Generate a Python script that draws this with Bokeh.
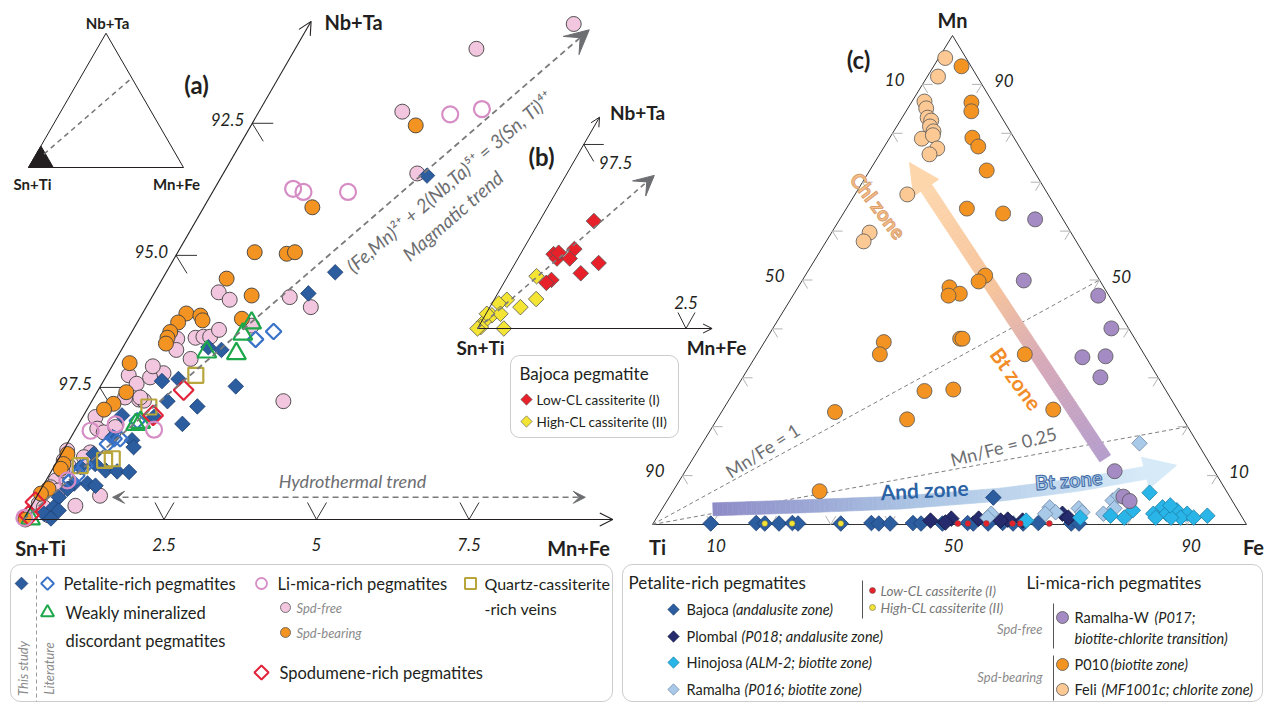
import numpy as np
from bokeh.plotting import figure
from bokeh.models import Range1d, BoxAnnotation, Arrow, OpenHead, VeeHead
from bokeh.core.properties import value
from bokeh.embed import file_html
from bokeh.resources import INLINE

W, H = 1266, 704
FONT = "Lato"

# ------------------------------------------------------------------
# (a) Nb+Ta / Sn+Ti / Mn+Fe compositions (percent of each apex group)
# ------------------------------------------------------------------
a_pet_study_mnfe = [3.36, 2.77, 2.53, 1.64, 1.40, 0.96, 1.21, 2.22, 1.24, 1.78, 1.70, 0.63, 1.17, 1.03, 0.68, 1.12,
                    0.53, 0.65, 0.88, 1.08, 1.28, 0.44, 0.71, 0.86, 0.49, 0.43, 0.37, 0.38, 0.28, 0.49, 0.44]
a_pet_study_nbta = [6.51, 4.68, 4.28, 3.21, 3.26, 2.62, 2.66, 2.52, 2.24, 2.14, 1.81, 1.97, 1.94, 1.50, 1.56, 1.37,
                    1.24, 1.05, 0.93, 0.91, 0.90, 0.99, 0.68, 0.64, 0.68, 0.58, 0.42, 0.23, 0.11, 0.17, 0.02]
a_pet_lit_mnfe = [2.32, 2.10, 0.93, 0.72, 0.66, 0.50, 0.46, 0.40, 0.82]
a_pet_lit_nbta = [3.56, 3.41, 1.87, 1.53, 1.43, 1.02, 0.83, 0.74, 1.53]
a_weak_mnfe = [1.88, 1.84, 1.42, 1.92, 0.94, 1.00, 0.11]
a_weak_nbta = [3.72, 3.51, 3.17, 3.14, 1.80, 1.84, 0.01]
a_mica_lit_mnfe = [3.16, 3.63, 1.29, 1.49, 2.22, 1.29, 0.61, 0.26, 0.35, 0.00]
a_mica_lit_nbta = [7.67, 7.77, 6.26, 6.20, 6.20, 1.70, 1.80, 1.68, 0.74, 0.03]
a_spd_free_mnfe = [4.33, 2.97, 2.35, 3.18, 1.05, 1.30, 2.26, 2.70, 0.81, 0.90, 1.10, 1.22, 1.33, 1.41, 1.22, 1.91,
                   0.36, 0.57, 0.91, 0.73, 0.76, 0.85, 3.14, 0.65, 0.51, 0.76, 0.21, 0.35, 0.49, 0.63, 0.46, 0.40,
                   0.06, 0.10, 0.16, 0.14, 0.30, 0.10, 0.22, 0.23, 0.17, 0.67, 0.37, 0.72, 1.03]
a_spd_free_nbta = [9.38, 8.91, 7.72, 6.55, 4.30, 4.16, 4.21, 4.02, 3.42, 3.21, 3.44, 3.46, 3.46, 3.59, 3.04, 3.67,
                   2.73, 2.57, 2.77, 2.69, 2.27, 2.25, 2.24, 1.65, 2.31, 2.31, 1.94, 1.72, 1.65, 1.75, 1.27, 1.18,
                   1.31, 1.12, 0.74, 0.61, 0.55, 0.30, 0.23, 1.02, 0.93, 2.90, 0.08, 0.26, 0.45]
a_spd_bear_mnfe = [2.70, 1.78, 1.26, 1.80, 1.92, 1.05, 1.62, 0.72, 0.97, 1.68, 0.67, 1.05, 0.63, 0.64, 0.67, 0.26,
                   0.48, 0.38, 0.28, 0.10, 0.13, 0.13, 0.12, 0.04, 0.03]
a_spd_bear_nbta = [7.46, 5.91, 5.06, 5.03, 5.06, 4.56, 4.24, 3.90, 3.86, 3.80, 3.73, 3.77, 3.55, 3.44, 3.33, 2.96,
                   2.41, 2.19, 2.08, 1.24, 1.05, 0.96, 0.58, 0.49, 0.00]
a_qtz_mnfe = [1.46, 0.88, 0.99, 0.42, 0.77]
a_qtz_nbta = [2.73, 1.15, 2.13, 1.02, 1.12]
a_spod_mnfe = [1.40, 1.14, 0.03, 0.05]
a_spod_nbta = [2.45, 1.97, 0.33, 0.08]

a_left_ticks = [2.5, 5.0, 7.5]
a_left_labels = ["97.5", "95.0", "92.5"]
a_bottom_ticks = [2.5, 5.0, 7.5]
a_bottom_labels = ["2.5", "5", "7.5"]

# (b) Bajoca cassiterite
b_low_mnfe = [0.64, 0.60, 0.39, 0.46, 0.61, 0.98, 0.84, 0.54, 0.50, 0.44]
b_low_nbta = [1.46, 1.08, 1.01, 0.95, 0.95, 0.89, 0.75, 0.66, 0.62, 1.03]
b_high_mnfe = [0.34, 0.15, 0.36, 0.49, 0.08, 0.08, 0.17, 0.03, 0.03, 0.31, 0.01, 0.00]
b_high_nbta = [0.71, 0.39, 0.29, 0.40, 0.34, 0.18, 0.20, 0.09, 0.02, 0.00, 0.20, 0.00]

# (c) Ti - Mn - Fe (atomic %)
feli_mn = [95.4, 91.6, 86.5, 85.1, 83.2, 82.6, 81.4, 80.4, 78.9, 79.6, 76.9, 75.7, 67.5, 59.7, 57.9]
feli_fe = [1.1, 1.8, 2.1, 3.1, 4.3, 5.2, 5.6, 6.7, 5.5, 7.0, 9.1, 8.4, 8.8, 6.4, 6.3]
p010_mn = [93.7, 86.3, 84.5, 79.1, 77.3, 72.4, 64.6, 63.6, 50.9, 49.7, 48.5, 47.2, 46.8, 37.3, 34.8, 38.0,
           38.0, 34.8, 27.3, 27.6, 23.5, 23.0, 21.5, 6.8]
p010_fe = [4.7, 10.1, 11.0, 13.9, 15.8, 19.7, 20.3, 26.9, 30.3, 29.8, 25.5, 27.9, 26.2, 20.1, 20.7, 32.6,
           33.0, 45.1, 32.0, 36.7, 55.6, 19.1, 32.0, 24.7]
ramw_mn = [62.4, 49.9, 46.8, 40.1, 34.2, 34.4, 30.1, 10.9, 5.7, 4.8]
ramw_fe = [32.9, 37.3, 51.4, 57.0, 55.1, 58.9, 60.2, 72.3, 76.4, 77.9]
ramalha_mn = [16.6, 3.5, 2.5, 2.2, 3.3, 2.5, 4.9, 3.3, 2.2, 2.2, 1.4, 5.9]
ramalha_fe = [73.6, 65.1, 66.6, 65.0, 70.1, 71.1, 75.0, 76.1, 74.8, 55.9, 55.7, 75.5]
hinojosa_mn = [6.5, 2.9, 1.4, 1.8, 3.5, 2.2, 2.2, 2.9, 2.2, 1.4, 1.4, 1.4, 1.8, 1.4, 0.8, 1.4, 3.9]
hinojosa_fe = [80.4, 79.4, 78.7, 76.2, 84.1, 83.2, 85.4, 86.8, 88.9, 84.0, 88.2, 90.4, 92.5, 86.6, 62.5, 71.3, 85.2]
bajoca_mn = [0.2, 0.3, 0.2, 0.2, 0.3, 0.2, 0.2, 0.3, 0.2, 0.2, 0.3, 0.2, 0.2, 0.3, 0.2, 0.2, 0.3, 0.2, 0.2, 0.3,
             0.2, 0.2, 5.5]
bajoca_fe = [9.7, 17.3, 18.8, 21.2, 23.4, 24.4, 31.6, 36.7, 38.0, 39.9, 43.7, 45.1, 48.7, 52.9, 53.9, 56.4, 58.8,
             60.6, 62.3, 64.8, 70.4, 71.7, 54.6]
plombal_mn = [0.8, 1.2, 1.2, 1.0, 2.2, 1.4, 0.8, 0.4, 0.8]
plombal_fe = [46.4, 49.7, 54.3, 59.3, 67.9, 69.3, 61.9, 49.1, 58.2]
c_low_mn = [0.2, 0.2, 0.2, 0.2, 0.2, 0.2]
c_low_fe = [51.3, 53.0, 56.1, 60.5, 61.8, 66.7]
c_high_mn = [0.2, 0.2, 0.2]
c_high_fe = [18.8, 23.4, 31.6]

c_ticks = [10, 20, 30, 40, 50, 60, 70, 80, 90]
c_labelled = [10, 50, 90]

# zone arrows in (c), given as (Mn, Fe) compositions
chl_arrow_mn = [13.5, 74.0]
chl_arrow_fe = [69.4, 5.9]
and_arrow_mn = [3.1, 3.7, 4.5, 6.1, 8.2, 10.6, 12.1]
and_arrow_fe = [8.6, 23.1, 39.5, 55.5, 67.9, 77.8, 82.1]

# colours
C_PET = "#2b5d9f"
C_PET_LIT = "#3b73c8"
C_WEAK = "#1ca84a"
C_MICA = "#d68cc4"
C_FREE = "#f1c6de"
C_BEAR = "#f39322"
C_QTZ = "#b8a53c"
C_SPOD = "#e2233a"
C_LOW = "#e8202a"
C_HIGH = "#f4e434"
C_PLOMBAL = "#252b6c"
C_HINO = "#2ab5e8"
C_RAMALHA = "#a9c9e8"
C_RAMW = "#a48bc3"
C_FELI = "#fcc994"
C_TXT = "#231f20"
C_GREY = "#6d6e71"

p = figure(width=W, height=H, x_range=Range1d(0, W), y_range=Range1d(0, H),
           x_axis_type=None, y_axis_type=None, output_backend="svg",
           toolbar_location=None, min_border=0)
p.outline_line_color = None
p.background_fill_color = "white"


def fy(py):
    return H - np.asarray(py, float)


SQ3 = np.sqrt(3) / 2

# panel geometry (page pixels)
A_X0, A_Y0, A_S = 23.0, 519.0, 61.0
B_X0, B_Y0, B_S = 477.0, 328.0, 85.0
I_X0, I_Y0, I_S = 28.0, 167.0, 1.55
C_TI, C_FE, C_MN = (652.0, 524.0), (1246.0, 524.0), (952.0, 35.0)
A_TICK_SHIFT = -12.0


def tern(x0, y0, s, mnfe, nbta):
    mnfe = np.asarray(mnfe, float)
    nbta = np.asarray(nbta, float)
    return x0 + s * (mnfe + nbta / 2), fy(y0 - s * SQ3 * nbta)


def pa(mnfe, nbta):
    return tern(A_X0, A_Y0, A_S, mnfe, nbta)


def pb(mnfe, nbta):
    return tern(B_X0, B_Y0, B_S, mnfe, nbta)


def pi_(mnfe, nbta):
    return tern(I_X0, I_Y0, I_S, mnfe, nbta)


def pc(mn, fe):
    mn = np.asarray(mn, float) / 100
    fe = np.asarray(fe, float) / 100
    ti = 1 - mn - fe
    x = ti * C_TI[0] + fe * C_FE[0] + mn * C_MN[0]
    y = ti * C_TI[1] + fe * C_FE[1] + mn * C_MN[1]
    return x, fy(y)


def txt(x, y, s, size=16, color=C_TXT, style="normal", align="left", baseline="middle", angle=0.0, **kw):
    p.text(x=[x], y=[y], text=[s], text_font=value(FONT), text_font_size=f"{size}px", text_color=color,
           text_font_style=style, text_align=align, text_baseline=baseline, angle=angle, **kw)


def diamond(x, y, size, fill, line="#3a3a3a", lw=0.8):
    p.scatter(x, y, marker="square", angle=np.pi / 4, size=size, fill_color=fill, line_color=line, line_width=lw)


def circle(x, y, size, fill, line="#3a3a3a", lw=0.8):
    p.scatter(x, y, marker="circle", size=size, fill_color=fill, line_color=line, line_width=lw)


def hex2rgb(h):
    h = h.lstrip("#")
    return np.array([int(h[i:i + 2], 16) for i in (0, 2, 4)], float)


def mix(stops, t):
    for (t0, c0), (t1, c1) in zip(stops[:-1], stops[1:]):
        if t <= t1:
            f = (t - t0) / (t1 - t0)
            c = hex2rgb(c0) * (1 - f) + hex2rgb(c1) * f
            return "#%02x%02x%02x" % tuple(int(round(v)) for v in c)
    return stops[-1][1]


def band(xs, ys, width, stops, n=90):
    xs, ys = np.asarray(xs, float), np.asarray(ys, float)
    seg = np.hypot(np.diff(xs), np.diff(ys))
    cum = np.r_[0, np.cumsum(seg)]
    t = np.linspace(0, cum[-1], n + 1)
    bx, by = np.interp(t, cum, xs), np.interp(t, cum, ys)
    gx, gy = np.gradient(bx), np.gradient(by)
    gl = np.hypot(gx, gy)
    nx, ny = -gy / gl * width / 2, gx / gl * width / 2
    qx, qy, cols = [], [], []
    for i in range(n):
        qx.append([bx[i] + nx[i], bx[i + 1] + nx[i + 1], bx[i + 1] - nx[i + 1], bx[i] - nx[i]])
        qy.append([by[i] + ny[i], by[i + 1] + ny[i + 1], by[i + 1] - ny[i + 1], by[i] - ny[i]])
        cols.append(mix(stops, (i + 0.5) / n))
    p.patches(qx, qy, fill_color=cols, line_color=cols, line_width=0.6)


def head(tip, back, length, half, color):
    d = np.array([tip[0] - back[0], tip[1] - back[1]], float)
    d /= np.hypot(*d)
    nrm = np.array([-d[1], d[0]])
    base = np.array(tip, float) - length * d
    p.patch([tip[0], base[0] + half * nrm[0], base[0] - half * nrm[0]],
            [tip[1], base[1] + half * nrm[1], base[1] - half * nrm[1]], fill_color=color, line_color=color)


# ------------------------------------------------------------------
# inset ternary showing the enlarged corner
# ------------------------------------------------------------------
ix, iy = pi_([0, 100, 0], [0, 0, 100])
p.patch(list(ix), list(iy), fill_color=None, line_color=C_TXT, line_width=1)
kx, ky = pi_([0, 16, 0], [0, 0, 16])
p.patch(list(kx), list(ky), fill_color="#231f20", line_color="#231f20")
dx_, dy_ = pi_([5, 33.3], [10, 66.7])
p.line(dx_, dy_, line_color="#777777", line_dash="5 4", line_width=1.5)
txt(107, fy(22), "Nb+Ta", 15, style="bold", align="center")
txt(32, fy(183), "Sn+Ti", 15, style="bold", align="center")
txt(176, fy(183), "Mn+Fe", 15, style="bold", align="center")

# ------------------------------------------------------------------
# panel (a)
# ------------------------------------------------------------------
ox, oy = pa(0, 0)
tx, ty = pa(0, 9.43)
p.add_layout(Arrow(end=OpenHead(size=13, line_color=C_TXT, line_width=1.1), x_start=float(ox), y_start=float(oy),
                   x_end=float(tx), y_end=float(ty), line_color=C_TXT, line_width=1.1))
rx, ry = pa(9.66, 0)
p.add_layout(Arrow(end=OpenHead(size=13, line_color=C_TXT, line_width=1.1), x_start=float(ox), y_start=float(oy),
                   x_end=float(rx), y_end=float(ry), line_color=C_TXT, line_width=1.1))

tk_x, tk_y = [], []
for v, lab in zip(a_left_ticks, a_left_labels):
    x, y = pa(0, v)
    tk_x += [[x + 21, x, x + 11]]
    tk_y += [[y, y, y - 18]]
    txt(x - 8, y + 4, lab, 17, style="italic", align="right")
for v, lab in zip(a_bottom_ticks, a_bottom_labels):
    x, y = pa(v, 0)
    x = x + A_TICK_SHIFT
    tk_x += [[x - 9, x, x + 10]]
    tk_y += [[y + 17, y, y + 17]]
    txt(x, y - 25, lab, 17, style="italic", align="center")
p.multi_line(tk_x, tk_y, line_color="#333333", line_width=1)

# magmatic trend (Fe,Mn + 2 Nb,Ta = 3 Sn,Ti)
mx, my = pa(4.64, 9.27)
p.add_layout(Arrow(end=VeeHead(size=24, fill_color="#6d6e71", line_color="#6d6e71"),
                   x_start=float(ox), y_start=float(oy), x_end=float(mx), y_end=float(my),
                   line_color="#7a7a7a", line_width=1.8, line_dash="6 4"))
ang = np.arctan2(my - oy, mx - ox)
# hydrothermal trend
h0x, h0y = pa(1.25, 0.42)
h1x, h1y = pa(9.0, 0.42)
p.add_layout(Arrow(start=VeeHead(size=12, fill_color="#6d6e71", line_color="#6d6e71"),
                   end=VeeHead(size=12, fill_color="#6d6e71", line_color="#6d6e71"),
                   x_start=float(h0x), y_start=float(h0y), x_end=float(h1x), y_end=float(h1y),
                   line_color="#7a7a7a", line_width=1.4, line_dash="6 4"))

circle(*pa(a_spd_free_mnfe, a_spd_free_nbta), 15, C_FREE, "#404040", 0.9)
circle(*pa(a_spd_bear_mnfe, a_spd_bear_nbta), 15, C_BEAR, "#404040", 0.9)
diamond(*pa(a_pet_study_mnfe, a_pet_study_nbta), 11, C_PET, "#1d3f73", 0.8)
diamond(*pa(a_pet_lit_mnfe, a_pet_lit_nbta), 11, None, C_PET_LIT, 2.2)
p.scatter(*pa(a_qtz_mnfe, a_qtz_nbta), marker="square", size=15, fill_color=None, line_color=C_QTZ, line_width=2.2)
p.scatter(*pa(a_weak_mnfe, a_weak_nbta), marker="triangle", size=19, fill_color=None, line_color=C_WEAK,
          line_width=2.2)
diamond(*pa(a_spod_mnfe, a_spod_nbta), 14, None, C_SPOD, 2.2)
circle(*pa(a_mica_lit_mnfe, a_mica_lit_nbta), 16, None, C_MICA, 2.2)

txt(449, fy(181), "(Fe,Mn)\u00b2\u207a + 2(Nb,Ta)\u2075\u207a = 3(Sn, Ti)\u2074\u207a", 19, color=C_GREY,
    style="italic", align="center", angle=float(ang))
txt(452, fy(215), "Magmatic trend", 19, color=C_GREY, style="italic", align="center", angle=float(ang))
txt(352, fy(480), "Hydrothermal trend", 18, color=C_GREY, style="italic", align="center")
txt(40, fy(547), "Sn+Ti", 20, style="bold", align="center")
txt(578, fy(547), "Mn+Fe", 20, style="bold", align="center")
txt(353, fy(21), "Nb+Ta", 20, style="bold", align="center")
txt(196, fy(84), "(a)", 24, style="bold", align="center")

# ------------------------------------------------------------------
# panel (b)
# ------------------------------------------------------------------
bx0, by0 = pb(0, 0)
btx, bty = pb(0, 2.87)
p.add_layout(Arrow(end=OpenHead(size=9, line_color=C_TXT, line_width=1), x_start=float(bx0), y_start=float(by0),
                   x_end=float(btx), y_end=float(bty), line_color=C_TXT, line_width=1))
brx, bry = pb(2.76, 0)
p.add_layout(Arrow(end=OpenHead(size=9, line_color=C_TXT, line_width=1), x_start=float(bx0), y_start=float(by0),
                   x_end=float(brx), y_end=float(bry), line_color=C_TXT, line_width=1))
x, y = pb(0, 2.5)
bt_x = [[x + 20, x, x + 10]]
bt_y = [[y, y, y - 17]]
txt(x + 15, y - 18, "97.5", 17, style="italic", align="left")
x, y = pb(2.5, 0)
x = x - 4
bt_x += [[x - 8, x, x + 9]]
bt_y += [[y + 16, y, y + 16]]
txt(x, y + 26, "2.5", 17, style="italic", align="center")
p.multi_line(bt_x, bt_y, line_color="#333333", line_width=1)
bmx, bmy = pb(1.04, 2.08)
p.add_layout(Arrow(end=VeeHead(size=20, fill_color="#6d6e71", line_color="#6d6e71"),
                   x_start=float(bx0), y_start=float(by0), x_end=float(bmx), y_end=float(bmy),
                   line_color="#7a7a7a", line_width=1.6, line_dash="5 4"))
diamond(*pb(b_high_mnfe, b_high_nbta), 11, C_HIGH, "#555555", 0.8)
diamond(*pb(b_low_mnfe, b_low_nbta), 11, C_LOW, "#555555", 0.8)
txt(637, fy(112), "Nb+Ta", 19, style="bold", align="center")
txt(480, fy(347), "Sn+Ti", 19, style="bold", align="center")
txt(716, fy(347), "Mn+Fe", 19, style="bold", align="center")
txt(541, fy(156), "(b)", 24, style="bold", align="center")

p.add_layout(BoxAnnotation(left=510, right=678, top=float(fy(355)), bottom=float(fy(437)), border_radius=9,
                           fill_color=None, line_color="#555555", line_width=1, level="underlay"))
txt(519, fy(373), "Bajoca pegmatite", 17)
diamond([526], [fy(399)], 8, C_LOW, "#555555", 0.6)
txt(536, fy(399), "Low-CL cassiterite (I)", 13.5)
diamond([526], [fy(421)], 8, C_HIGH, "#555555", 0.6)
txt(536, fy(421), "High-CL cassiterite (II)", 13.5)

# ------------------------------------------------------------------
# panel (c) Ti-Mn-Fe ternary
# ------------------------------------------------------------------
vx, vy = pc([0, 0, 100], [0, 100, 0])
p.patch(list(vx), list(vy), fill_color=None, line_color="#333333", line_width=1)

ctx, cty = [], []
ud_r = np.array([C_FE[0] - C_MN[0], C_FE[1] - C_MN[1]]); ud_r /= np.hypot(*ud_r)
ud_l = np.array([C_TI[0] - C_MN[0], C_TI[1] - C_MN[1]]); ud_l /= np.hypot(*ud_l)
L = 10
for v in c_ticks:
    # left edge (Ti)
    x, y = pc(100 - v, 0)
    ctx.append([x + L, x, x + L * ud_r[0]]); cty.append([y, y, y - L * ud_r[1]])
    if v in c_labelled:
        txt(x - 18, y + 5, str(v), 17, style="italic", align="right")
    # right edge (Mn)
    x, y = pc(v, 100 - v)
    ctx.append([x - L, x, x + L * ud_l[0]]); cty.append([y, y, y - L * ud_l[1]])
    if v in c_labelled:
        txt(x + 12, y + 4, str(v), 17, style="italic", align="left")
    # base (Fe)
    x, y = pc(0, v)
    ctx.append([x - L * ud_r[0], x, x - L * ud_l[0]]); cty.append([y + L * ud_r[1], y, y + L * ud_l[1]])
    if v in c_labelled:
        txt(x + 4, y - 21, str(v), 17, style="italic", align="center")
p.multi_line(ctx, cty, line_color="#b3b3b3", line_width=1)

# Mn/Fe reference lines
for mn_end, fe_end in [(50, 50), (20, 80)]:
    lx, ly = pc([0, mn_end], [0, fe_end])
    p.line(lx, ly, line_color="#7f7f7f", line_dash="4 3", line_width=1)
l1x, l1y = pc([0, 50], [0, 50])
l2x, l2y = pc([0, 20], [0, 80])
a1 = float(np.arctan2(l1y[1] - l1y[0], l1x[1] - l1x[0]))
a2 = float(np.arctan2(l2y[1] - l2y[0], l2x[1] - l2x[0]))
txt(762, fy(450), "Mn/Fe = 1", 18, color=C_GREY, align="center", angle=a1 + 0.07)
txt(1003, fy(446), "Mn/Fe = 0.25", 18, color=C_GREY, align="center", angle=a2 + 0.07)

# zone arrows
cx_, cy_ = pc(chl_arrow_mn, chl_arrow_fe)
d = np.array([cx_[1] - cx_[0], cy_[1] - cy_[0]]); dl = np.hypot(*d); d /= dl
end = np.array([cx_[1], cy_[1]]) - 26 * d
band([cx_[0], end[0]], [cy_[0], end[1]], 13,
     [(0, "#b49dcc"), (0.35, "#d6a9b8"), (0.62, "#f6c49c"), (1, "#fdd7ae")])
head((cx_[1], cy_[1]), (cx_[0], cy_[0]), 30, 15, "#fdd6ab")

axx, axy = pc(and_arrow_mn, and_arrow_fe)
band(axx[:-1], axy[:-1], 13, [(0, "#8d8bc6"), (0.45, "#aac3e3"), (1, "#d6eaf8")])
head((axx[-1], axy[-1]), (axx[-2], axy[-2]), 32, 16, "#d6eaf8")

txt(878, fy(205), "Chl zone", 20, color="#f8c08c", style="bold", align="center", angle=-0.92,
    text_outline_color="#d9a06e")
txt(1016, fy(378), "Bt zone", 21, color="#f28c28", style="bold", align="center", angle=-0.94)
txt(924, fy(489), "And zone", 21, color="#2c63a5", style="bold", align="center", angle=0.05)
txt(1068, fy(479), "Bt zone", 20, color="#b3d0ec", style="bold", align="center", angle=0.08,
    text_outline_color="#3f6aa4")

# data points
diamond(*pc(bajoca_mn, bajoca_fe), 11, C_PET, "#1d3f73", 0.8)
diamond(*pc(plombal_mn, plombal_fe), 11, C_PLOMBAL, "#14183f", 0.8)
diamond(*pc(ramalha_mn, ramalha_fe), 11, C_RAMALHA, "#6d87a5", 0.8)
diamond(*pc(hinojosa_mn, hinojosa_fe), 11, C_HINO, "#1c7fa6", 0.8)
circle(*pc(c_low_mn, c_low_fe), 6, C_LOW, "#555555", 0.5)
circle(*pc(c_high_mn, c_high_fe), 6, C_HIGH, "#555555", 0.5)
circle(*pc(ramw_mn, ramw_fe), 15, C_RAMW, "#555555", 0.8)
circle(*pc(p010_mn, p010_fe), 15, C_BEAR, "#555555", 0.8)
circle(*pc(feli_mn, feli_fe), 15, C_FELI, "#555555", 0.8)

txt(657, fy(546), "Ti", 20, style="bold", align="center")
txt(1253, fy(546), "Fe", 20, style="bold", align="center")
txt(952, fy(19), "Mn", 20, style="bold", align="center")
txt(858, fy(59), "(c)", 24, style="bold", align="center")

# ------------------------------------------------------------------
# legends
# ------------------------------------------------------------------
p.add_layout(BoxAnnotation(left=10, right=612, top=float(fy(564)), bottom=float(fy(701)), border_radius=10,
                           fill_color=None, line_color="#555555", line_width=1, level="underlay"))
p.line([36, 36], [fy(574), fy(701)], line_color="#9a9a9a", line_dash="4 3", line_width=1)
txt(22, fy(668), "This study", 13, color="#8a8a8a", style="italic", align="center", angle=np.pi / 2)
txt(48, fy(668), "Literature", 13, color="#8a8a8a", style="italic", align="center", angle=np.pi / 2)
LS = 16.5
R1, R2, R3, R4 = 583, 612, 640, 672
diamond([21], [fy(R1)], 9, C_PET, "#1d3f73", 0.8)
diamond([47], [fy(R1)], 9, None, C_PET_LIT, 2)
txt(63, fy(R1), "Petalite-rich pegmatites", LS)
p.scatter([47], [fy(R2)], marker="triangle", size=13, fill_color=None, line_color=C_WEAK, line_width=2)
txt(65, fy(R2), "Weakly mineralized", LS)
txt(65, fy(R3), "discordant pegmatites", LS)
circle([261], [fy(R1)], 11, None, C_MICA, 1.8)
txt(277, fy(R1), "Li-mica-rich pegmatites", LS)
circle([285], [fy(607)], 10, C_FREE, "#555555", 0.8)
txt(296, fy(607), "Spd-free", 13, color="#8a8a8a", style="italic")
circle([285], [fy(632)], 10, C_BEAR, "#555555", 0.8)
txt(296, fy(632), "Spd-bearing", 13, color="#8a8a8a", style="italic")
diamond([261], [fy(R4)], 10, None, C_SPOD, 2)
txt(279, fy(R4), "Spodumene-rich pegmatites", LS)
p.scatter([470], [fy(R1)], marker="square", size=11, fill_color=None, line_color=C_QTZ, line_width=2)
txt(484, fy(R1), "Quartz-cassiterite", 16)
txt(484, fy(608), "-rich veins", 16)

p.add_layout(BoxAnnotation(left=622, right=1262, top=float(fy(564)), bottom=float(fy(701)), border_radius=10,
                           fill_color=None, line_color="#555555", line_width=1, level="underlay"))
RS = 14.5
txt(628, fy(582), "Petalite-rich pegmatites", 17)
rows = [(609, C_PET, "#1d3f73", "Bajoca", "(andalusite zone)", 46),
        (636, C_PLOMBAL, "#14183f", "Plombal", "(P018; andalusite zone)", 55),
        (662, C_HINO, "#1c7fa6", "Hinojosa", "(ALM-2; biotite zone)", 59),
        (689, C_RAMALHA, "#6d87a5", "Ramalha", "(P016; biotite zone)", 58)]
for ry_, fc, lc, name, note, nw in rows:
    diamond([673], [fy(ry_)], 8, fc, lc, 0.7)
    txt(686, fy(ry_), name, RS)
    txt(686 + nw, fy(ry_), note, RS, style="italic")
p.line([862, 862], [fy(580), fy(618)], line_color="#555555", line_width=1)
circle([872], [fy(590)], 6, C_LOW, "#555555", 0.5)
txt(880, fy(590), "Low-CL cassiterite (I)", 13.5, color="#777777", style="italic")
circle([872], [fy(607)], 6, C_HIGH, "#555555", 0.5)
txt(880, fy(607), "High-CL cassiterite (II)", 13.5, color="#777777", style="italic")
txt(1026, fy(582), "Li-mica-rich pegmatites", 17)
p.line([1053, 1053], [fy(603), fy(648)], line_color="#555555", line_width=1)
p.line([1053, 1053], [fy(655), fy(700)], line_color="#555555", line_width=1)
txt(1042, fy(628), "Spd-free", 13, color="#8a8a8a", style="italic", align="right")
txt(1042, fy(676), "Spd-bearing", 13, color="#8a8a8a", style="italic", align="right")
circle([1062], [fy(617)], 12, C_RAMW, "#555555", 0.8)
txt(1074, fy(617), "Ramalha-W", RS)
txt(1074 + 80, fy(617), "(P017;", RS, style="italic")
txt(1074, fy(638), "biotite-chlorite transition)", RS, style="italic")
circle([1062], [fy(664)], 12, C_BEAR, "#555555", 0.8)
txt(1074, fy(664), "P010", RS)
txt(1074 + 36, fy(664), "(biotite zone)", RS, style="italic")
circle([1062], [fy(689)], 12, C_FELI, "#555555", 0.8)
txt(1074, fy(689), "Feli", RS)
txt(1074 + 27, fy(689), "(MF1001c; chlorite zone)", RS, style="italic")

open("out.html", "w").write(file_html(p, INLINE))
